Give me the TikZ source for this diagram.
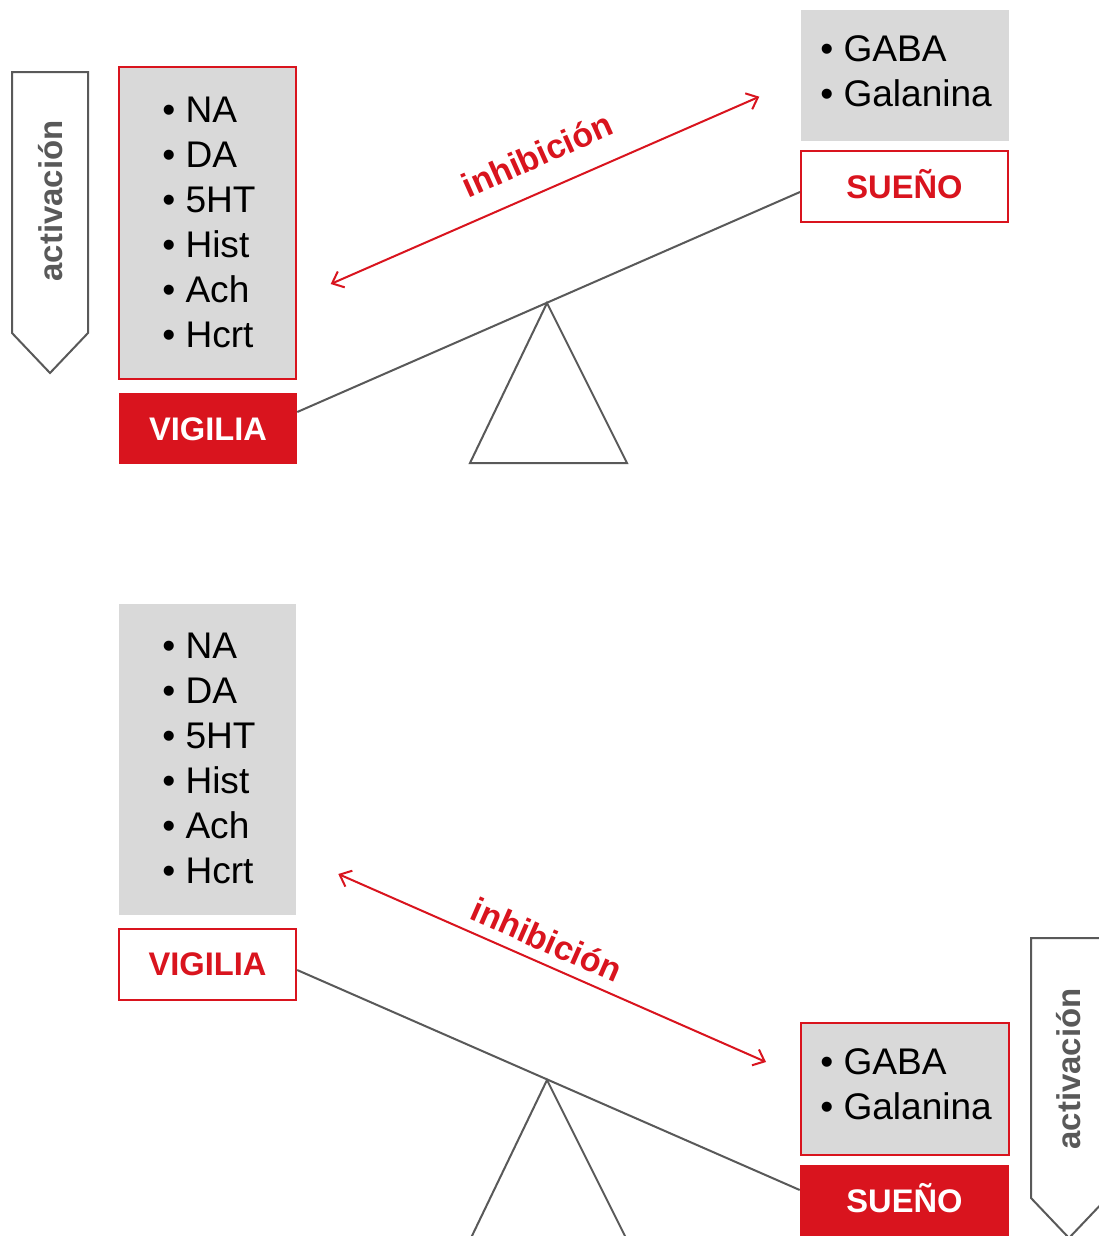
\documentclass[tikz,border=0pt]{standalone}
\usepackage{fontspec}
\setmainfont{Liberation Sans}
\usetikzlibrary{arrows.meta,calc,fit}
\definecolor{rojo}{HTML}{D9141E}
\definecolor{gris}{HTML}{D9D9D9}
\definecolor{oscuro}{HTML}{595959}
\begin{document}
\begin{tikzpicture}[x=0.75pt,y=-0.75pt,
  lw/.style={line width=1.5pt},
  listbox/.style={inner sep=0pt, fill=gris},
  redline/.style={draw=rojo, lw},
  item/.style={font=\fontsize{27.8}{33}\selectfont, inner sep=0pt, anchor=base west},
  labbox/.style={inner sep=0pt, font=\bfseries\fontsize{24.5}{29}\selectfont, text height=17.5pt, text depth=0pt, minimum height=53.25pt},
  vigfill/.style={fill=rojo, text=white},
  vigline/.style={fill=white, draw=rojo, lw, text=rojo},
  actshape/.style={draw=oscuro, lw, fill=white},
  acttext/.style={rotate=90, anchor=base, inner sep=0pt, text=oscuro, font=\bfseries\fontsize{24.7}{29}\selectfont},
  inhtext/.style={anchor=base, inner sep=0pt, text=rojo, font=\bfseries\fontsize{25.5}{30}\selectfont},
  inharrow/.style={rojo, lw, {Straight Barb[length=7.5pt,width=13pt]}-{Straight Barb[length=7.5pt,width=13pt]}},
  beam/.style={draw=oscuro, lw},
]
\clip (0,0) rectangle (1099,1236);
\fill[white] (0,0) rectangle (1099,1236);

% ===== top panel =====
\draw[actshape] (12,72) -- (88,72) -- (88,333) -- (50,373) -- (12,333) -- cycle;
\node[acttext] (act1) at (62,201) {activación};

\node[fit={(119,67) (296,379)}, listbox, redline] (wl1) {};
\foreach \t [count=\i] in {NA,DA,5HT,Hist,Ach,Hcrt}
  \node[item] (wl1-\i) at (162,{122+45*(\i-1)}) {\textbullet\ \t};
\node[labbox, vigfill, minimum width=133.5pt] (vig1) at (208,428.5) {VIGILIA};

\node[fit={(801,10) (1009,141)}, listbox] (sl1) {};
\node[item] (sl1-1) at (820,61) {\textbullet\ GABA};
\node[item] (sl1-2) at (820,106) {\textbullet\ Galanina};
\node[labbox, vigline, minimum width=155.25pt] (sue1) at (904.5,186.5) {SUEÑO};

\draw[oscuro, lw] (547,303) -- (470,463) -- (627,463) -- cycle;
\draw[beam] ($(vig1.east)+(0,-16.5)$) -- ($(sue1.west)+(0,5.5)$);

\coordinate (ia1) at (330.7,284);
\coordinate (ib1) at (759.3,96.7);
\draw[inharrow] (ia1) -- (ib1);
\node[inhtext, rotate=24.05] (inh1) at (542,166) {inhibición};

% ===== bottom panel =====
\node[fit={(119,604) (296,915)}, listbox] (wl2) {};
\foreach \t [count=\i] in {NA,DA,5HT,Hist,Ach,Hcrt}
  \node[item] (wl2-\i) at (162,{658+45*(\i-1)}) {\textbullet\ \t};
\node[labbox, vigline, minimum width=133pt] (vig2) at (207.5,964) {VIGILIA};

\node[fit={(801,1023) (1009,1155)}, listbox, redline] (sl2) {};
\node[item] (sl2-1) at (820,1074) {\textbullet\ GABA};
\node[item] (sl2-2) at (820,1119) {\textbullet\ Galanina};
\node[labbox, vigfill, minimum width=156.75pt] (sue2) at (904.5,1200.5) {SUEÑO};

\draw[oscuro, lw] (470,1240) -- (547,1080) -- (627,1240);
\draw[beam] ($(vig2.east)+(0,6)$) -- ($(sue2.west)+(0,-10.5)$);

\coordinate (ia2) at (338.3,874);
\coordinate (ib2) at (766,1062);
\draw[inharrow] (ia2) -- (ib2);
\node[inhtext, rotate=-23.7] (inh2) at (542,951) {inhibición};

\draw[actshape] (1031,938) -- (1107,938) -- (1107,1198) -- (1069,1238) -- (1031,1198) -- cycle;
\node[acttext] (act2) at (1080,1069) {activación};
\end{tikzpicture}
\end{document}
